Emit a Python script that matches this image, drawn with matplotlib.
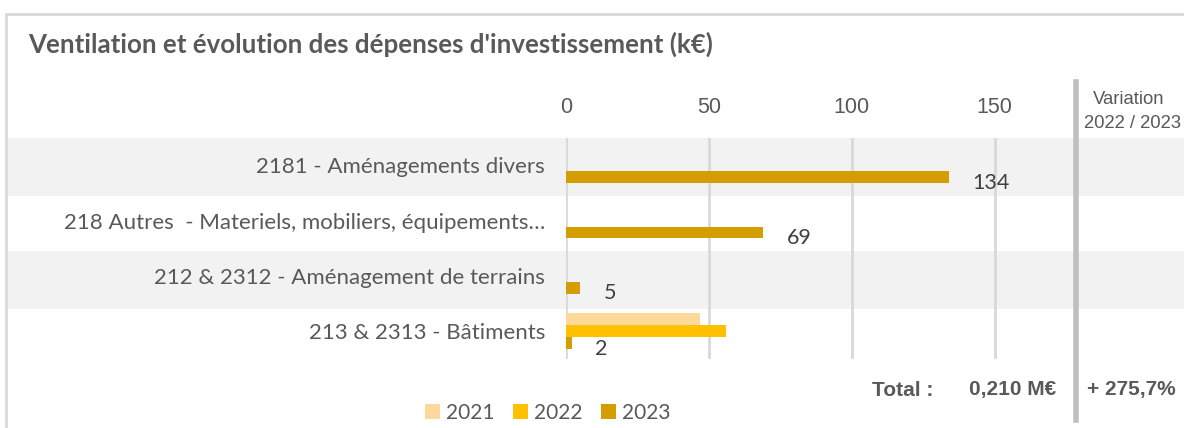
import matplotlib
matplotlib.use("Agg")
import matplotlib.pyplot as plt
from matplotlib.patches import Rectangle
from matplotlib.lines import Line2D
import numpy as np

categories = [
    "2181 - Aménagements divers",
    "218 Autres  - Materiels, mobiliers, équipements…",
    "212 & 2312 - Aménagement de terrains",
    "213 & 2313 - Bâtiments",
]
years = ["2021", "2022", "2023"]
values_2021 = [0, 0, 0, 47]
values_2022 = [0, 0, 0, 56]
values_2023 = [134, 69, 5, 2]
xticks = [0, 50, 100, 150]
total_text = "0,210 M€"
variation_text = "+ 275,7%"

colors = ["#FDD89B", "#FFC000", "#D49E00"]
grey_txt = "#595959"

W, H = 1184, 428
fig = plt.figure(figsize=(W / 100, H / 100), dpi=100)


def fx(px):
    return px / W


def fy(py):
    return 1 - py / H


# outer frame
fig.add_artist(Rectangle((fx(6), fy(440)), fx(1200), fy(14) - fy(440),
                         transform=fig.transFigure, fill=False,
                         edgecolor="#D9D9D9", linewidth=2, zorder=0))

# alternating row bands
for top, bot in [(138, 195.5), (251, 309)]:
    fig.add_artist(Rectangle((fx(8), fy(bot)), fx(1184) - fx(8), fy(top) - fy(bot),
                             transform=fig.transFigure, facecolor="#F2F2F2",
                             edgecolor="none", zorder=0))

ax = fig.add_axes([fx(566), fy(358.8), fx(1066) - fx(566), fy(137.7) - fy(358.8)])
ax.patch.set_alpha(0)

y = np.arange(len(categories))
h = 0.215
series = [values_2021, values_2022, values_2023]
for i, (vals, col, lab) in enumerate(zip(series, colors, years)):
    ax.barh(y + (i - 1) * h, vals, height=h, color=col, label=lab, zorder=2)

for yi, v in zip(y, values_2023):
    ax.annotate(f"{v}", (v, yi + h), xytext=(17, -4), textcoords="offset points",
                ha="left", va="center", fontsize=15.5, color="#404040",
                family="Lato")

ax.set_xlim(0, 175)
ax.set_ylim(len(categories) - 0.5, -0.5)
ax.set_xticks(xticks)
ax.xaxis.tick_top()
ax.grid(axis="x", color="#D9D9D9", linewidth=2, zorder=1)
ax.set_yticks(y)
ax.set_yticklabels(categories)
ax.tick_params(axis="y", length=0, pad=15, labelsize=16, labelcolor=grey_txt)
ax.tick_params(axis="x", length=0, pad=14, labelsize=15.5, labelcolor=grey_txt)
for t in ax.get_yticklabels():
    t.set_family("Lato")
for t in ax.get_xticklabels():
    t.set_family("Liberation Sans")
for s in ax.spines.values():
    s.set_visible(False)

fig.text(fx(28), fy(44), "Ventilation et évolution des dépenses d'investissement (k€)",
         ha="left", va="center", fontsize=18.6, fontweight="bold", color=grey_txt,
         family="Lato")

# variation column
fig.add_artist(Line2D([fx(1076), fx(1076)], [fy(82), fy(420)], transform=fig.transFigure,
                      color="#BFBFBF", linewidth=4))
fig.text(fx(1129), fy(99), "Variation", ha="center", va="center", fontsize=13.3,
         color=grey_txt, family="Liberation Sans")
fig.text(fx(1084), fy(123), "2022 / 2023", ha="left", va="center", fontsize=13.3,
         color=grey_txt, family="Liberation Sans")

fig.text(fx(872), fy(390), "Total :", ha="left", va="center", fontsize=15,
         fontweight="bold", color=grey_txt, family="Liberation Sans")
fig.text(fx(1056), fy(390), total_text, ha="right", va="center", fontsize=15,
         fontweight="bold", color=grey_txt, family="Liberation Sans")
fig.text(fx(1087), fy(390), variation_text, ha="left", va="center", fontsize=15,
         fontweight="bold", color=grey_txt, family="Liberation Sans")

handles, labels = ax.get_legend_handles_labels()
leg = fig.legend(handles, labels, loc="center", bbox_to_anchor=(fx(548), fy(413)),
                 ncol=3, frameon=False, handlelength=0.7, handleheight=0.7,
                 handletextpad=0.3, columnspacing=0.9, prop={"family": "Lato", "size": 15})
for t in leg.get_texts():
    t.set_color(grey_txt)

fig.savefig("out.png", dpi=100)
